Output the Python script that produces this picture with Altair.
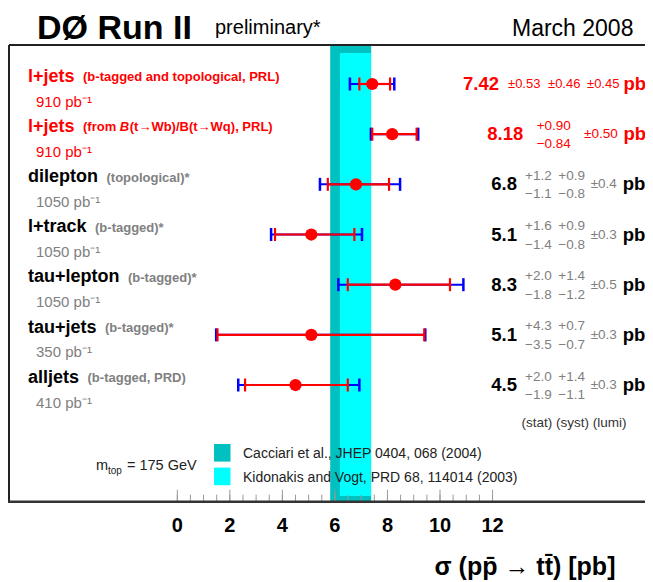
import altair as alt
import pandas as pd
import numpy as np

FONT = "Liberation Sans"

# ---------------- data ----------------
titles = ["l+jets", "l+jets", "dilepton", "l+track", "tau+lepton", "tau+jets", "alljets"]
qualifiers = ["(b-tagged and topological, PRL)", "(from ",
              "(topological)*", "(b-tagged)*", "(b-tagged)*", "(b-tagged)*", "(b-tagged, PRD)"]
qual2_italic = "B"
qual2_rest = "(t\u2192Wb)/B(t\u2192Wq), PRL)"
lumis = ["910 pb\u207b\u00b9", "910 pb\u207b\u00b9", "1050 pb\u207b\u00b9", "1050 pb\u207b\u00b9",
         "1050 pb\u207b\u00b9", "350 pb\u207b\u00b9", "410 pb\u207b\u00b9"]
is_red = [True, True, False, False, False, False, False]

xsec = [7.42, 8.18, 6.8, 5.1, 8.3, 5.1, 4.5]
stat_lo = [6.93, 7.42, 5.73, 3.72, 6.49, 1.53, 2.58]
stat_hi = [8.10, 9.11, 8.06, 6.74, 10.38, 9.40, 6.49]
tot_lo = [6.57, 7.37, 5.43, 3.57, 6.13, 1.48, 2.32]
tot_hi = [8.26, 9.17, 8.48, 7.03, 10.89, 9.44, 6.93]

# right-hand text, rows 3..7
val_txt = ["6.8", "5.1", "8.3", "5.1", "4.5"]
stat_up = ["+1.2", "+1.6", "+2.0", "+4.3", "+2.0"]
stat_dn = ["\u22121.1", "\u22121.4", "\u22121.8", "\u22123.5", "\u22121.9"]
syst_up = ["+0.9", "+0.9", "+1.4", "+0.7", "+1.4"]
syst_dn = ["\u22120.8", "\u22120.8", "\u22121.2", "\u22120.7", "\u22121.1"]
lumi_err = ["\u00b10.4", "\u00b10.3", "\u00b10.5", "\u00b10.3", "\u00b10.3"]
# row 1 and row 2
row1_txt = ["7.42", "\u00b10.53", "\u00b10.46", "\u00b10.45"]
row2_txt = ["8.18", "+0.90", "\u22120.84", "\u00b10.50"]

theory_names = ["Cacciari et al., JHEP 0404, 068 (2004)", "Kidonakis and Vogt, PRD 68, 114014 (2003)"]
theory_lo = [5.82, 6.19]
theory_hi = [7.38, 7.37]
theory_colors = ["#00c0c0", "#00ffff"]

major_ticks = [0, 2, 4, 6, 8, 10, 12]
minor_step = 0.5

# ---------------- geometry ----------------
W, H = 637, 574
PX0, PPU = 169.3, 26.27          # chart px of x=0, px per pb
RY0, RPU = 76.0, 50.17           # chart px of row 0, px per row
xscale = alt.Scale(domain=[-PX0 / PPU, (W - PX0) / PPU], nice=False, zero=False)
yscale = alt.Scale(domain=[-RY0 / RPU, (H - RY0) / RPU], nice=False, zero=False, reverse=True)

RED, BLUE, GRAY = "#ff0000", "#0000ff", "#808080"

# Arial/Liberation Sans Bold advance widths (per 1000 em)
BW = {"a": 556, "c": 556, "d": 611, "e": 556, "i": 278, "j": 278, "k": 556, "l": 278,
      "n": 611, "o": 611, "p": 611, "r": 389, "s": 556, "t": 333, "u": 611, "+": 584,
      "(": 333, "f": 333, "m": 889, " ": 278, "B": 722}
TITLE_X, TITLE_SIZE, GAP, QUAL_SIZE = 20, 18, 8.5, 13


def px_to_val(px):
    return (px - PX0) / PPU


def bold_width(s, size):
    return sum(BW.get(ch, 556) for ch in s) * size / 1000


rows = pd.DataFrame({
    "r": list(range(len(titles))),
    "title": titles, "qual": qualifiers, "lumi": lumis,
    "tcol": [RED if f else "black" for f in is_red],
    "qcol": [RED if f else GRAY for f in is_red],
    "xsec": xsec, "slo": stat_lo, "shi": stat_hi, "tlo": tot_lo, "thi": tot_hi,
})
qx_px = [TITLE_X + bold_width(t, TITLE_SIZE) + GAP for t in titles]
rows["qx"] = [px_to_val(p) for p in qx_px]
b_px = qx_px[1] + bold_width(qualifiers[1], QUAL_SIZE)
q2 = pd.DataFrame({"r": [1, 1], "t": [qual2_italic, qual2_rest],
                   "x": [px_to_val(b_px), px_to_val(b_px + bold_width(qual2_italic, QUAL_SIZE) + 0.5)],
                   "style": ["italic", "normal"]})

caps = pd.concat([
    pd.DataFrame({"r": rows.r, "x": rows.tlo, "k": "b"}),
    pd.DataFrame({"r": rows.r, "x": rows.thi, "k": "b"}),
    pd.DataFrame({"r": rows.r, "x": rows.slo, "k": "r"}),
    pd.DataFrame({"r": rows.r, "x": rows.shi, "k": "r"}),
])

right = pd.DataFrame({"r": list(range(2, 7)), "v": val_txt, "su": stat_up, "sd": stat_dn,
                      "yu": syst_up, "yd": syst_dn, "l": lumi_err})
right["pb"] = "pb"
r1 = pd.DataFrame({"r": [0], "v": [row1_txt[0]], "a": [row1_txt[1]], "b": [row1_txt[2]],
                   "c": [row1_txt[3]], "pb": ["pb"]})
r2 = pd.DataFrame({"r": [1], "v": [row2_txt[0]], "su": [row2_txt[1]], "sd": [row2_txt[2]],
                   "l": [row2_txt[3]], "pb": ["pb"]})

bands = pd.DataFrame({"name": theory_names, "lo": theory_lo, "hi": theory_hi, "col": theory_colors})
ticks_all = pd.DataFrame({"x": np.arange(major_ticks[0], major_ticks[-1] + minor_step / 2, minor_step)})
ticks_major = pd.DataFrame({"x": major_ticks, "lab": [str(t) for t in major_ticks]})
one = pd.DataFrame({"d": [0]})

Y = alt.Y("r:Q", scale=yscale, axis=None)
AXIS_Y = 493.7


def X(field):
    return alt.X(f"{field}:Q", scale=xscale, axis=None)


def txt(df, field, x, dy=0, size=13.5, color=GRAY, weight="normal", align="left"):
    return alt.Chart(df).mark_text(align=align, baseline="middle", dy=dy, fontSize=size, font=FONT,
                                   fontWeight=weight, color=color).encode(
        x=alt.value(x), y=Y, text=alt.Text(f"{field}:N"))


layers = []
# theory bands
layers.append(alt.Chart(bands.iloc[[0]]).mark_rect(color=theory_colors[0]).encode(
    x=X("lo"), x2="hi", y=alt.value(37), y2=alt.value(AXIS_Y)))
layers.append(alt.Chart(bands.iloc[[1]]).mark_rect(color=theory_colors[1]).encode(
    x=X("lo"), x2="hi", y=alt.value(45), y2=alt.value(488)))
# frame
layers.append(alt.Chart(one).mark_rule(color="#222", strokeWidth=2).encode(
    x=alt.value(1), x2=alt.value(W), y=alt.value(37)))
layers.append(alt.Chart(one).mark_rule(color="#222", strokeWidth=2).encode(
    x=alt.value(1), y=alt.value(37), y2=alt.value(AXIS_Y)))
# ticks
layers.append(alt.Chart(ticks_all).mark_rule(color="#999", strokeWidth=1).encode(
    x=X("x"), y=alt.value(AXIS_Y - 7), y2=alt.value(AXIS_Y)))
layers.append(alt.Chart(ticks_major).mark_rule(color="#999", strokeWidth=1).encode(
    x=X("x"), y=alt.value(AXIS_Y - 12), y2=alt.value(AXIS_Y)))
layers.append(alt.Chart(one).mark_rule(color="#333", strokeWidth=2.5).encode(
    x=alt.value(0), x2=alt.value(W), y=alt.value(AXIS_Y)))
layers.append(alt.Chart(ticks_major).mark_text(fontSize=20, fontWeight="bold", font=FONT, baseline="middle").encode(
    x=X("x"), y=alt.value(517.8), text="lab:N"))

# error bars
layers.append(alt.Chart(rows).mark_rule(color=BLUE, strokeWidth=2).encode(x=X("tlo"), x2="thi", y=Y))
layers.append(alt.Chart(rows).mark_rule(color=RED, strokeWidth=2.2).encode(x=X("slo"), x2="shi", y=Y))
layers.append(alt.Chart(caps[caps.k == "b"]).mark_tick(orient="vertical", size=13, thickness=2.5,
                                                       color=BLUE, opacity=1).encode(x=X("x"), y=Y))
layers.append(alt.Chart(caps[caps.k == "r"]).mark_tick(orient="vertical", size=13, thickness=2.2,
                                                       color=RED, opacity=1).encode(x=X("x"), y=Y))
layers.append(alt.Chart(rows).mark_circle(size=150, color=RED, opacity=1).encode(x=X("xsec"), y=Y))

# left labels
layers.append(alt.Chart(rows).mark_text(align="left", baseline="middle", dy=-7.3, fontSize=TITLE_SIZE,
                                        fontWeight="bold", font=FONT).encode(
    x=alt.value(TITLE_X), y=Y, text="title:N", color=alt.Color("tcol:N", scale=None)))
layers.append(alt.Chart(rows).mark_text(align="left", baseline="middle", dy=-6.7, fontSize=QUAL_SIZE,
                                        fontWeight="bold", font=FONT).encode(
    x=X("qx"), y=Y, text="qual:N", color=alt.Color("qcol:N", scale=None)))
layers.append(alt.Chart(q2[q2["style"] == "italic"]).mark_text(
    align="left", baseline="middle", dy=-6.7, fontSize=QUAL_SIZE, fontWeight="bold", fontStyle="italic",
    font=FONT, color=RED).encode(x=X("x"), y=Y, text="t:N"))
layers.append(alt.Chart(q2[q2["style"] == "normal"]).mark_text(
    align="left", baseline="middle", dy=-6.7, fontSize=QUAL_SIZE, fontWeight="bold",
    font=FONT, color=RED).encode(x=X("x"), y=Y, text="t:N"))
layers.append(alt.Chart(rows).mark_text(align="left", baseline="middle", dy=17.5, fontSize=15,
                                        font=FONT).encode(
    x=alt.value(28), y=Y, text="lumi:N", color=alt.Color("qcol:N", scale=None)))

# right-hand numbers: row 1
layers.append(txt(r1, "v", 491, size=18.5, color=RED, weight="bold", align="right"))
layers.append(txt(r1, "a", 500, size=13, color=RED))
layers.append(txt(r1, "b", 540, size=13, color=RED))
layers.append(txt(r1, "c", 579, size=13, color=RED))
layers.append(txt(r1, "pb", 615.5, size=18.5, color=RED, weight="bold"))
# row 2
layers.append(txt(r2, "v", 515.3, size=18.5, color=RED, weight="bold", align="right"))
layers.append(txt(r2, "su", 528.7, dy=-8.5, color=RED))
layers.append(txt(r2, "sd", 528.7, dy=10, color=RED))
layers.append(txt(r2, "l", 576, color=RED))
layers.append(txt(r2, "pb", 615.5, size=18.5, color=RED, weight="bold"))
# rows 3..7
layers.append(txt(right, "v", 509, size=18.5, color="black", weight="bold", align="right"))
layers.append(txt(right, "su", 517, dy=-8.5))
layers.append(txt(right, "sd", 517, dy=10))
layers.append(txt(right, "yu", 550.3, dy=-8.5))
layers.append(txt(right, "yd", 550.3, dy=10))
layers.append(txt(right, "l", 582.7))
layers.append(txt(right, "pb", 614.7, size=18.5, color="black", weight="bold"))


# fixed texts
def fixed(text, x, y, size, weight="normal", color="black", align="left", baseline="middle"):
    return alt.Chart(pd.DataFrame({"t": [text]})).mark_text(
        align=align, baseline=baseline, fontSize=size, fontWeight=weight, font=FONT, color=color).encode(
        x=alt.value(x), y=alt.value(y), text="t:N")


layers.append(fixed("(stat) (syst) (lumi)", 566, 414.7, 13.5, color="#333", align="center"))
layers.append(fixed("D\u00d8 Run II", 29, 30.5, 34, weight="bold", baseline="alphabetic"))
layers.append(fixed("preliminary*", 207, 26, 20, baseline="alphabetic"))
layers.append(fixed("March 2008", 504, 27.5, 23, baseline="alphabetic"))
layers.append(fixed("m", 88, 458, 14.5, color="#222"))
layers.append(fixed("top", 100, 463, 10, color="#222"))
layers.append(fixed("= 175 GeV", 119, 458, 14.5, color="#222"))
layers.append(fixed("\u03c3 (pp\u0304 \u2192 tt\u0304) [pb]", 517, 567, 25, weight="bold", align="center",
                    baseline="alphabetic"))

# theory legend
for i in range(2):
    layers.append(alt.Chart(bands.iloc[[i]]).mark_rect(color=theory_colors[i]).encode(
        x=alt.value(206), x2=alt.value(222.5), y=alt.value(436 + 23.6 * i), y2=alt.value(453.6 + 23.6 * i)))
    layers.append(fixed(theory_names[i], 235, 445.5 + 24.7 * i, 14, color="#222"))

chart = alt.layer(*layers).properties(
    width=W, height=H, padding=0, autosize=alt.AutoSizeParams(type="none")
).configure_view(stroke=None)

chart.save("out.html", embed_options={"renderer": "svg", "actions": False})
